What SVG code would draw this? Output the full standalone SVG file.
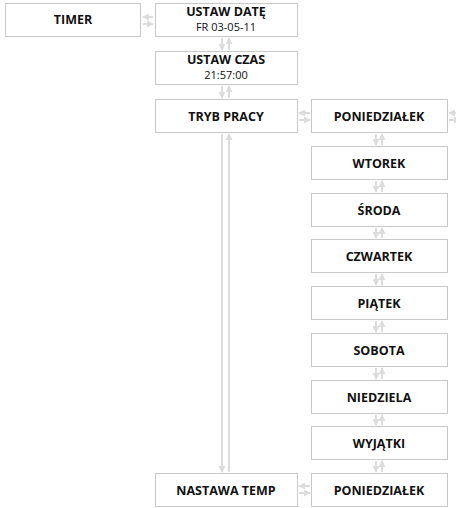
<svg xmlns="http://www.w3.org/2000/svg" width="456" height="508" viewBox="0 0 456 508">
<style>
.box{fill:#fff;stroke:#c8c8c8;stroke-width:1}
.t{font-family:"Open Sans","DejaVu Sans",sans-serif;font-size:12.5px;font-weight:bold;fill:#111;text-anchor:middle}
.s{font-family:"Open Sans","DejaVu Sans",sans-serif;font-size:11px;fill:#111;text-anchor:middle}
.c{stroke:#dcdcdc;stroke-width:2;fill:none;marker-end:url(#ah)}
</style>
<defs>
<marker id="ah" markerUnits="userSpaceOnUse" markerWidth="7" markerHeight="7" refX="6" refY="3.5" orient="auto">
<path d="M0,0 L7,3.5 L0,7 Z" fill="#dcdcdc"/>
</marker>
</defs>
<g id="connectors">
<path class="c" d="M153,17 H143"/>
<path class="c" d="M143,24 H153"/>
<path class="c" d="M222,38 V50"/>
<path class="c" d="M229,50 V38"/>
<path class="c" d="M222,86 V98"/>
<path class="c" d="M229,98 V86"/>
<path class="c" d="M222,134 V472"/>
<path class="c" d="M229,472 V134"/>
<path class="c" d="M310,113 H299"/>
<path class="c" d="M299,120 H310"/>
<path class="c" d="M458,113 H449"/>
<path class="c" d="M449,120 H460"/>
<path class="c" d="M376,134 V145"/>
<path class="c" d="M382,145 V134"/>
<path class="c" d="M376,181 V192"/>
<path class="c" d="M382,192 V181"/>
<path class="c" d="M376,228 V238"/>
<path class="c" d="M382,238 V228"/>
<path class="c" d="M376,274 V285"/>
<path class="c" d="M382,285 V274"/>
<path class="c" d="M376,321 V332"/>
<path class="c" d="M382,332 V321"/>
<path class="c" d="M376,368 V379"/>
<path class="c" d="M382,379 V368"/>
<path class="c" d="M376,415 V425"/>
<path class="c" d="M382,425 V415"/>
<path class="c" d="M376,461 V472"/>
<path class="c" d="M382,472 V461"/>
<path class="c" d="M310,486 H299"/>
<path class="c" d="M299,493 H310"/>
</g>
<g id="timer"><rect class="box" x="5.5" y="3.5" width="135" height="33"/><text class="t" x="73" y="24">TIMER</text></g>
<g id="ustaw-date"><rect class="box" x="155.5" y="3.5" width="142" height="33"/><text class="t" x="226" y="16">USTAW DATĘ</text><text class="s" x="226" y="31">FR 03-05-11</text></g>
<g id="ustaw-czas"><rect class="box" x="155.5" y="51.5" width="142" height="33"/><text class="t" x="226" y="64">USTAW CZAS</text><text class="s" x="226" y="79">21:57:00</text></g>
<g id="tryb-pracy"><rect class="box" x="155.5" y="99.5" width="142" height="33"/><text class="t" x="226" y="120.5">TRYB PRACY</text></g>
<g id="nastawa-temp"><rect class="box" x="155.5" y="473.5" width="142" height="33"/><text class="t" x="226" y="494.5">NASTAWA TEMP</text></g>
<g id="poniedzialek"><rect class="box" x="311.5" y="99.5" width="136" height="33"/><text class="t" x="379" y="120.5">PONIEDZIAŁEK</text></g>
<g id="wtorek"><rect class="box" x="311.5" y="146.5" width="136" height="33"/><text class="t" x="379" y="167.5">WTOREK</text></g>
<g id="sroda"><rect class="box" x="311.5" y="193.5" width="136" height="33"/><text class="t" x="379" y="214.5">ŚRODA</text></g>
<g id="czwartek"><rect class="box" x="311.5" y="239.5" width="136" height="33"/><text class="t" x="379" y="260.5">CZWARTEK</text></g>
<g id="piatek"><rect class="box" x="311.5" y="286.5" width="136" height="33"/><text class="t" x="379" y="307.5">PIĄTEK</text></g>
<g id="sobota"><rect class="box" x="311.5" y="333.5" width="136" height="33"/><text class="t" x="379" y="354.5">SOBOTA</text></g>
<g id="niedziela"><rect class="box" x="311.5" y="380.5" width="136" height="33"/><text class="t" x="379" y="401.5">NIEDZIELA</text></g>
<g id="wyjatki"><rect class="box" x="311.5" y="426.5" width="136" height="33"/><text class="t" x="379" y="447.5">WYJĄTKI</text></g>
<g id="poniedzialek-2"><rect class="box" x="311.5" y="473.5" width="136" height="33"/><text class="t" x="379" y="494.5">PONIEDZIAŁEK</text></g>
</svg>
